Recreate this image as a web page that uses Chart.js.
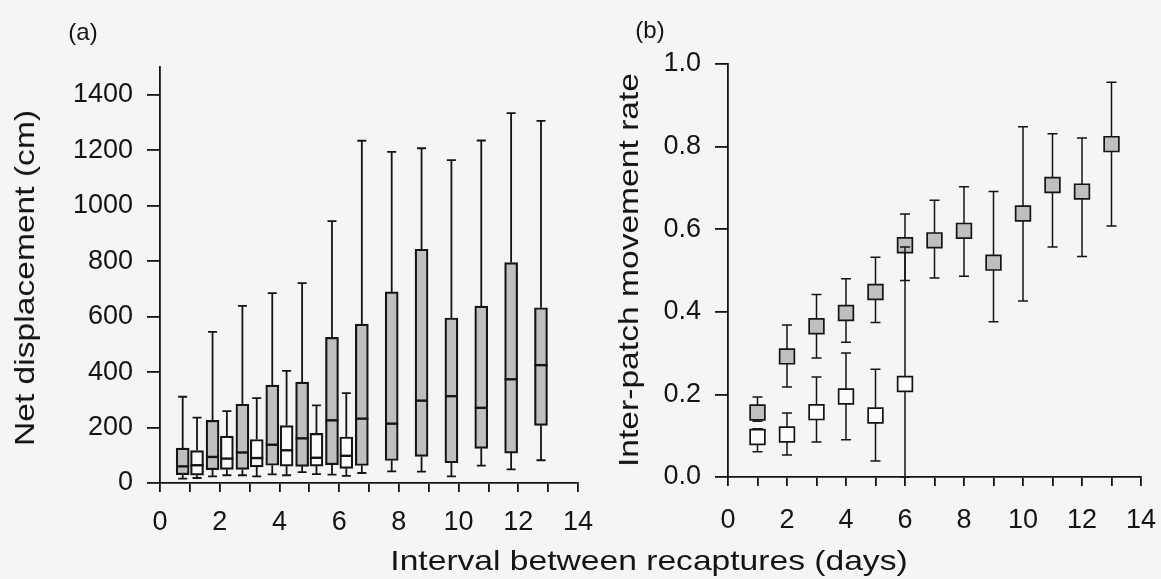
<!DOCTYPE html>
<html>
<head>
<meta charset="utf-8">
<title>Net displacement and inter-patch movement</title>
<script src="https://cdn.jsdelivr.net/npm/chart.js@4.4.0/dist/chart.umd.min.js"></script>
<style>
  body { margin: 0; background: #f5f5f3; }
  #fig { position: relative; width: 1161px; height: 579px; overflow: hidden;
         font-family: "Liberation Sans", Arial, sans-serif; color: #141414; }
  #chart-a { position: absolute; left: 0; top: 0; }
  #chart-b { position: absolute; left: 600px; top: 0; }
  .label { position: absolute; white-space: nowrap; line-height: 1;
           transform: translate(-50%, -50%); }
  .tag { font-size: 24px; }
  .title { font-size: 28px; transform: translate(-50%, -50%) scaleX(1.2); }
  .title.vertical { transform: translate(-50%, -50%) rotate(-90deg) scaleX(1.2); }
</style>
</head>
<body>
<div id="fig">
  <canvas id="chart-a" width="600" height="579"></canvas>
  <canvas id="chart-b" width="561" height="579"></canvas>
  <div class="label tag" style="left:83px; top:32px;">(a)</div>
  <div class="label tag" style="left:650px; top:30px;">(b)</div>
  <div class="label title vertical" style="left:25px; top:278px;">Net displacement (cm)</div>
  <div class="label title vertical" style="left:629px; top:270px;">Inter-patch movement rate</div>
  <div class="label title" style="left:649px; top:561px;">Interval between recaptures (days)</div>
</div>
<script>
// interval between recaptures (days)
const days = [1, 2, 3, 4, 5, 6, 7, 8, 9, 10, 11, 12, 13];
const whiteDays = [1, 2, 3, 4, 5, 6];

// (a) net displacement boxes, cm
const grayMin = [16, 24, 28, 31, 39, 30, 36, 42, 41, 24, 63, 49, 82];
const grayQ1 = [30, 48, 49, 64, 60, 66, 63, 81, 96, 73, 125, 108, 208];
const grayMed = [60, 94, 110, 138, 161, 226, 232, 214, 297, 313, 271, 374, 425];
const grayQ3 = [126, 226, 284, 353, 364, 525, 573, 689, 843, 595, 638, 795, 632];
const grayMax = [311, 545, 639, 685, 721, 944, 1234, 1194, 1207, 1164, 1235, 1334, 1306];

const whiteMin = [18, 28, 24, 28, 32, 26];
const whiteQ1 = [28, 49, 58, 61, 61, 53];
const whiteMed = [64, 88, 90, 118, 91, 98];
const whiteQ3 = [117, 169, 157, 207, 179, 166];
const whiteMax = [236, 259, 306, 404, 280, 324];

const displacementTicks = [0, 200, 400, 600, 800, 1000, 1200, 1400];

// (b) inter-patch movement rate with error limits
const grayRate = [0.156, 0.292, 0.365, 0.397, 0.448, 0.561, 0.573, 0.596, 0.519, 0.638, 0.707, 0.691, 0.806];
const grayHi = [0.194, 0.368, 0.442, 0.480, 0.532, 0.637, 0.670, 0.703, 0.691, 0.848, 0.831, 0.821, 0.956];
const grayLo = [0.135, 0.218, 0.288, 0.326, 0.374, 0.476, 0.482, 0.486, 0.376, 0.426, 0.557, 0.534, 0.608];

const whiteRate = [0.097, 0.103, 0.157, 0.195, 0.149, 0.225];
const whiteHi = [0.117, 0.155, 0.242, 0.300, 0.261, 0.557];
const whiteLo = [0.061, 0.053, 0.085, 0.090, 0.039, 0.0];

const ink = '#141414';
const fillGray = '#bfbfbf';
const fontFamily = '"Liberation Sans", Arial, sans-serif';

function axis(tickLength, extra) {
  return Object.assign({
    grid: { drawOnChartArea: false, drawTicks: true, tickLength: tickLength, color: ink, lineWidth: 1.8, offset: false },
    border: { display: true, color: ink, width: 1.8 }
  }, extra);
}

function tickStyle(extra) {
  return Object.assign({ color: ink, font: { family: fontFamily, size: 27 }, maxRotation: 0, autoSkip: false }, extra);
}

// keep the plot area where the layout padding puts it, whatever the tick labels measure
function pinAxis(size) {
  return s => {
    if (s.isHorizontal()) s.height = size; else s.width = size;
    s.paddingLeft = s.paddingRight = s.paddingTop = s.paddingBottom = 0;
  };
}

// whiskers, caps and median lines on top of the floating bars
const boxWhiskers = {
  id: 'boxWhiskers',
  afterDatasetsDraw(chart) {
    const ctx = chart.ctx;
    const y = chart.scales.y;
    ctx.save();
    ctx.strokeStyle = ink;
    chart.data.datasets.forEach((ds, di) => {
      const meta = chart.getDatasetMeta(di);
      meta.data.forEach((bar, i) => {
        const x = bar.x;
        const half = bar.width / 2;
        const top = Math.min(bar.y, bar.base);
        const bottom = Math.max(bar.y, bar.base);
        const hi = y.getPixelForValue(ds.whiskerHi[i]);
        const lo = y.getPixelForValue(ds.whiskerLo[i]);
        ctx.lineWidth = 1.8;
        ctx.beginPath();
        ctx.moveTo(x, top); ctx.lineTo(x, hi);
        ctx.moveTo(x - 4.5, hi); ctx.lineTo(x + 4.5, hi);
        ctx.moveTo(x, bottom); ctx.lineTo(x, lo);
        ctx.moveTo(x - 4.5, lo); ctx.lineTo(x + 4.5, lo);
        ctx.stroke();
        const med = y.getPixelForValue(ds.median[i]);
        ctx.lineWidth = 2.4;
        ctx.beginPath();
        ctx.moveTo(x - half, med); ctx.lineTo(x + half, med);
        ctx.stroke();
      });
    });
    ctx.restore();
  }
};

// error bars go under each dataset's own markers
const errorBars = {
  id: 'errorBars',
  beforeDatasetDraw(chart, args) {
    const ds = chart.data.datasets[args.index];
    const ctx = chart.ctx;
    const y = chart.scales.y;
    ctx.save();
    ctx.strokeStyle = ink;
    ctx.lineWidth = 1.5;
    args.meta.data.forEach((pt, i) => {
      const hi = y.getPixelForValue(ds.errHi[i]);
      const lo = y.getPixelForValue(ds.errLo[i]);
      ctx.beginPath();
      ctx.moveTo(pt.x, hi); ctx.lineTo(pt.x, lo);
      ctx.moveTo(pt.x - 5, hi); ctx.lineTo(pt.x + 5, hi);
      ctx.moveTo(pt.x - 5, lo); ctx.lineTo(pt.x + 5, lo);
      ctx.stroke();
    });
    ctx.restore();
  }
};

const evenDays = v => (v % 2 === 0 ? String(v) : '');

new Chart(document.getElementById('chart-a'), {
  type: 'bar',
  data: {
    datasets: [
      {
        data: days.map((d, i) => ({ x: d - 0.24, y: [grayQ1[i], grayQ3[i]] })),
        backgroundColor: fillGray,
        whiskerLo: grayMin, whiskerHi: grayMax, median: grayMed
      },
      {
        data: whiteDays.map((d, i) => ({ x: d + 0.24, y: [whiteQ1[i], whiteQ3[i]] })),
        backgroundColor: '#fbfbfa',
        whiskerLo: whiteMin, whiskerHi: whiteMax, median: whiteMed
      }
    ]
  },
  options: {
    responsive: false,
    animation: false,
    events: [],
    layout: { padding: { left: 0, right: 22, top: 67, bottom: 0 } },
    datasets: {
      bar: { borderColor: ink, borderWidth: 2.2, borderSkipped: false, barThickness: 13, grouped: false }
    },
    plugins: { legend: { display: false }, tooltip: { enabled: false } },
    scales: {
      x: axis(9, {
        type: 'linear', min: 0, max: 14, offset: false,
        ticks: tickStyle({ stepSize: 1, padding: 14, callback: evenDays }),
        afterFit: pinAxis(96)
      }),
      y: axis(13, {
        min: 0, max: 1500,
        ticks: tickStyle({ stepSize: 200, padding: 14, callback: v => String(v) }),
        afterBuildTicks: s => { s.ticks = displacementTicks.map(v => ({ value: v })); },
        afterFit: pinAxis(160)
      })
    }
  },
  plugins: [boxWhiskers]
});

new Chart(document.getElementById('chart-b'), {
  type: 'scatter',
  data: {
    datasets: [
      {
        data: days.map((d, i) => ({ x: d, y: grayRate[i] })),
        backgroundColor: fillGray,
        errHi: grayHi, errLo: grayLo,
        order: 2
      },
      {
        data: whiteDays.map((d, i) => ({ x: d, y: whiteRate[i] })),
        backgroundColor: '#fbfbfa',
        errHi: whiteHi, errLo: whiteLo,
        order: 1
      }
    ]
  },
  options: {
    responsive: false,
    animation: false,
    events: [],
    layout: { padding: { left: 0, right: 20, top: 64, bottom: 0 } },
    elements: {
      point: { pointStyle: 'rect', radius: 10.4, borderColor: ink, borderWidth: 1.7 }
    },
    plugins: { legend: { display: false }, tooltip: { enabled: false } },
    scales: {
      x: axis(9, {
        type: 'linear', min: 0, max: 14,
        ticks: tickStyle({ stepSize: 1, padding: 18, callback: evenDays }),
        afterFit: pinAxis(102)
      }),
      y: axis(13, {
        min: 0, max: 1,
        ticks: tickStyle({ stepSize: 0.2, padding: 14, callback: v => v.toFixed(1) }),
        afterFit: pinAxis(128)
      })
    }
  },
  plugins: [errorBars]
});
</script>
</body>
</html>
